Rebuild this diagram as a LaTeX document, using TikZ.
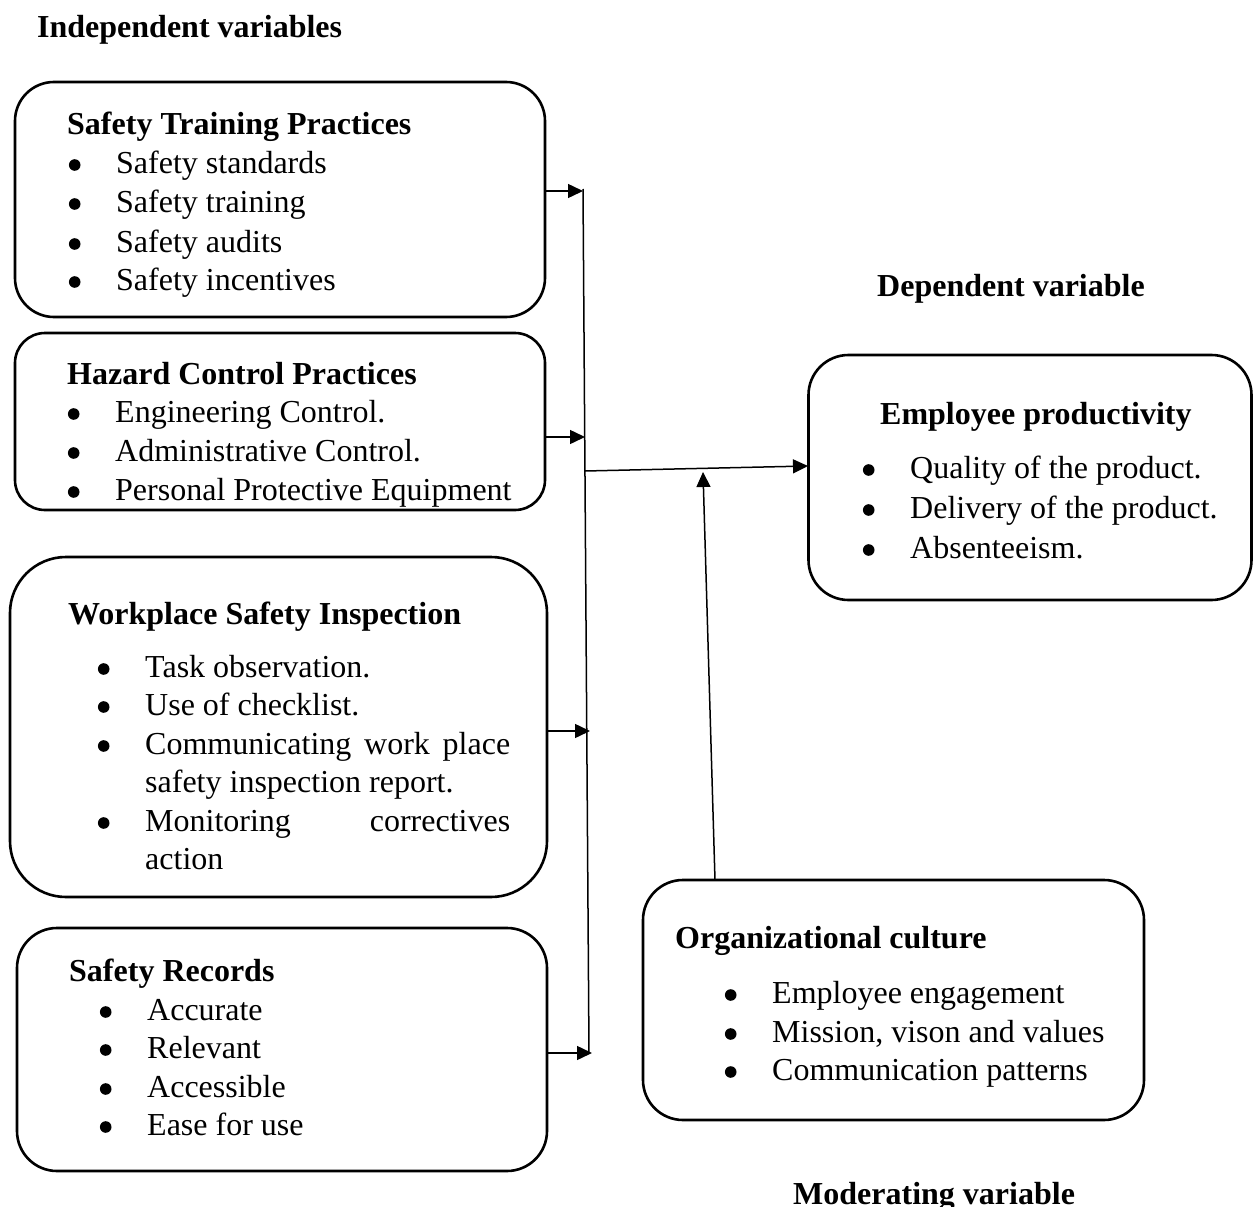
\documentclass[tikz,border=0pt]{standalone}
\usepackage{fontspec}
\setmainfont{Liberation Serif}
\usetikzlibrary{arrows.meta}
\newcommand\bul{\llap{\makebox[0pt]{\raisebox{2.2pt}{\tikz\fill (0pt,0pt) circle (5.8pt);}}\hspace{41.5pt}}}
\begin{document}
\begin{tikzpicture}[x=1pt,y=-1pt,
  box/.style={draw, line width=2.6pt, minimum width=#1},
  txt/.style={anchor=base west, inner sep=0pt, font=\fontsize{32}{39}\selectfont},
  ttl/.style={anchor=base west, inner sep=0pt, font=\fontsize{32}{39}\selectfont\bfseries},
  arr/.style={line width=1.5pt, -{Triangle[length=15pt,width=14pt]}},
  ln/.style={line width=1.5pt}]
\useasboundingbox (0,0) rectangle (1254,1207);

% boxes
\node[box=530, minimum height=235, rounded corners=39pt] (b1) at (280,199.5) {};
\node[box=530, minimum height=177, rounded corners=30pt] (b2) at (280,421.5) {};
\node[box=537, minimum height=340, rounded corners=56pt] (b3) at (278.5,727) {};
\node[box=530, minimum height=243, rounded corners=40pt] (b4) at (282,1049.5) {};
\node[box=443, minimum height=245, rounded corners=40pt] (ep) at (1030,477.5) {};
\node[box=501, minimum height=240, rounded corners=40pt] (oc) at (893.5,1000) {};

% headings
\node[ttl] (hind) at (37,38) {Independent variables};
\node[ttl] (hdep) at (877,296) {Dependent variable};
\node[ttl] (hmod) at (793,1204) {Moderating variable};

% box 1
\node[ttl] (t1) at (67,135) {Safety Training Practices};
\node[txt] (t1a) at (116,173) {\bul Safety standards};
\node[txt] (t1b) at (116,212) {\bul Safety training};
\node[txt] (t1c) at (116,252) {\bul Safety audits};
\node[txt] (t1d) at (116,290) {\bul Safety incentives};

% box 2
\node[ttl] (t2) at (67,384) {Hazard Control Practices};
\node[txt] (t2a) at (115,422) {\bul Engineering Control.};
\node[txt] (t2b) at (115,461) {\bul Administrative Control.};
\node[txt] (t2c) at (115,500) {\bul Personal Protective Equipment};

% box 3
\node[ttl] (t3) at (68,624) {Workplace Safety Inspection};
\node[txt] (t3a) at (145,677) {\bul Task observation.};
\node[txt] (t3b) at (145,715) {\bul Use of checklist.};
\node[txt] (t3c) at (145,754) {\bul\makebox[365pt][s]{Communicating\hfill work\hfill place}};
\node[txt] (t3d) at (145,792) {safety inspection report.};
\node[txt] (t3e) at (145,831) {\bul\makebox[365pt][s]{Monitoring\hfill correctives}};
\node[txt] (t3f) at (145,869) {action};

% box 4
\node[ttl] (t4) at (69,981) {Safety Records};
\node[txt] (t4a) at (147,1020) {\bul Accurate};
\node[txt] (t4b) at (147,1058) {\bul Relevant};
\node[txt] (t4c) at (147,1097) {\bul Accessible};
\node[txt] (t4d) at (147,1135) {\bul Ease for use};

% dependent box
\node[ttl] (t5) at (880,424) {Employee productivity};
\node[txt] (t5a) at (910,478) {\bul Quality of the product.};
\node[txt] (t5b) at (910,518) {\bul Delivery of the product.};
\node[txt] (t5c) at (910,558) {\bul Absenteeism.};

% moderating box
\node[ttl] (t6) at (675,948) {Organizational culture};
\node[txt] (t6a) at (772,1003) {\bul Employee engagement};
\node[txt] (t6b) at (772,1042) {\bul Mission, vison and values};
\node[txt] (t6c) at (772,1080) {\bul Communication patterns};

% connectors
\coordinate (vt) at (583,189);
\coordinate (vb) at (589,1053);
\coordinate (j1) at (583,191);
\coordinate (j2) at (585,437);
\coordinate (j3) at (590,731);
\coordinate (j4) at (592,1053);
\coordinate (m0) at (585,471);
\coordinate (m1) at (808,466);
\coordinate (mf) at (715,880);
\coordinate (mt) at (703,472);

\draw[ln] (vt) -- (vb);
\draw[arr] (b1.east |- j1) -- (j1);
\draw[arr] (b2.east |- j2) -- (j2);
\draw[arr] (b3.east |- j3) -- (j3);
\draw[arr] (b4.east |- j4) -- (j4);
\draw[arr] (m0) -- (m1);
\draw[arr] (mf) -- (mt);
\end{tikzpicture}
\end{document}
